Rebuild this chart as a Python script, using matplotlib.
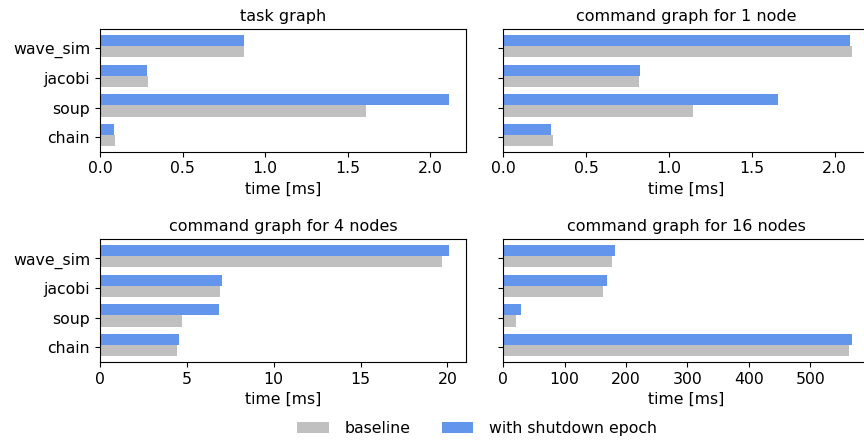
import matplotlib
matplotlib.use("Agg")
import matplotlib.pyplot as plt
import numpy as np

benchmarks = ["chain", "soup", "jacobi", "wave_sim"]
titles = ["task graph", "command graph for 1 node",
          "command graph for 4 nodes", "command graph for 16 nodes"]

# times in ms, order follows benchmarks
baseline_task = [0.091, 1.61, 0.29, 0.872]
epoch_task = [0.085, 2.113, 0.285, 0.872]
baseline_1 = [0.299, 1.143, 0.817, 2.106]
epoch_1 = [0.287, 1.661, 0.823, 2.094]
baseline_4 = [4.43, 4.72, 6.90, 19.67]
epoch_4 = [4.54, 6.85, 7.02, 20.08]
baseline_16 = [563.4, 20.6, 162.0, 176.6]
epoch_16 = [568.3, 28.7, 168.5, 181.5]

baselines = [baseline_task, baseline_1, baseline_4, baseline_16]
epochs = [epoch_task, epoch_1, epoch_4, epoch_16]

plt.rcParams['font.size'] = 11.3

fig, axes = plt.subplots(2, 2, figsize=(8.64, 4.45), dpi=100, sharey=True)
y = np.arange(len(benchmarks))
h = 0.375
for i, ax in enumerate(axes.flat):
    ax.barh(y - 0.3, baselines[i], h, align='edge', color='#c0c0c0', label='baseline')
    ax.barh(y - 0.3 + h, epochs[i], h, align='edge', color='#6495ed', label='with shutdown epoch')
    ax.set_title(titles[i], fontsize=11.5)
    ax.set_xlabel("time [ms]")
    ax.set_yticks(y)
    ax.set_yticklabels(benchmarks)

axes[1][0].set_xticks([0, 5, 10, 15, 20])
axes[1][1].set_xticks([0, 100, 200, 300, 400, 500])

handles, labels = axes[0][0].get_legend_handles_labels()
fig.legend(handles, labels, loc='lower center', ncol=2, frameon=False,
           bbox_to_anchor=(0.552, -0.012), columnspacing=2.0, handletextpad=1.0)

fig.subplots_adjust(left=0.1157, right=1.0065, top=0.934, bottom=0.187,
                    wspace=0.101, hspace=0.716)
plt.savefig('out.png', dpi=100)
